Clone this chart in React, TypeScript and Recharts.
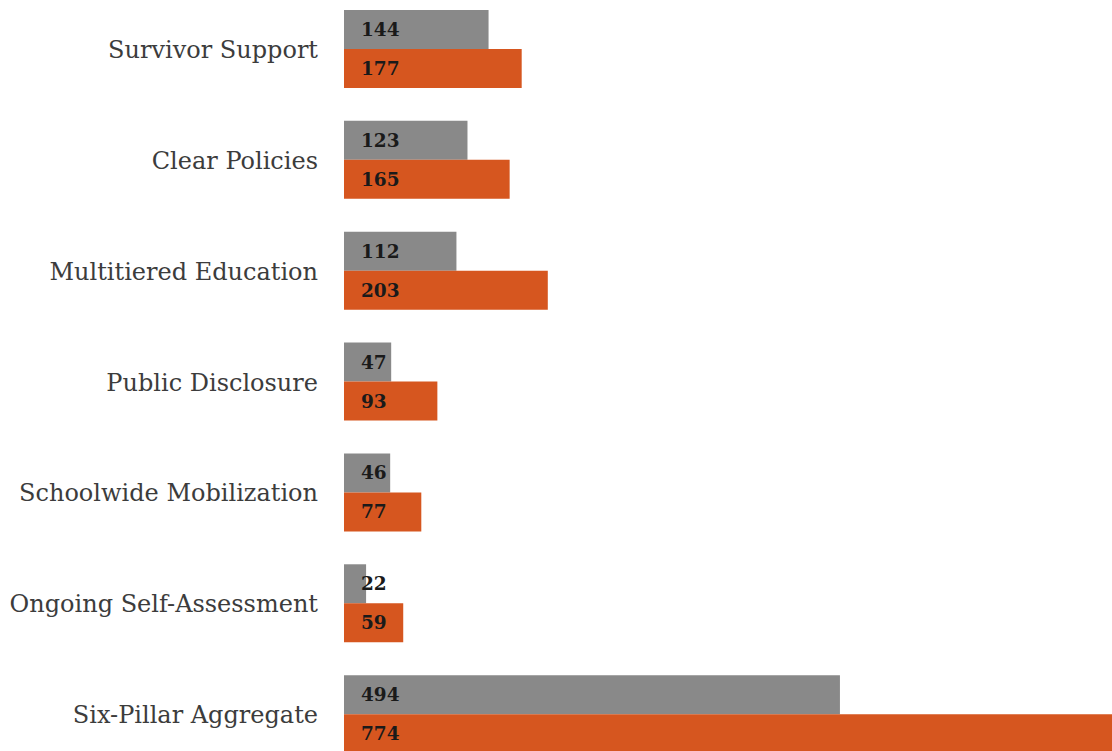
import React from 'react';
import { BarChart, Bar, XAxis, YAxis, LabelList } from 'recharts';

// pillar names, top to bottom
const pillars = [
  'Survivor Support',
  'Clear Policies',
  'Multitiered Education',
  'Public Disclosure',
  'Schoolwide Mobilization',
  'Ongoing Self-Assessment',
  'Six-Pillar Aggregate',
];

// grey series (first bar of each pair)
const greyValues = [144, 123, 112, 47, 46, 22, 494];
// orange series (second bar of each pair)
const orangeValues = [177, 165, 203, 93, 77, 59, 774];

const FONT = '"DejaVu Serif", serif';

const rows = pillars.map((name, i) => ({
  name,
  grey: greyValues[i],
  orange: orangeValues[i],
}));

const valueStyle = { fontFamily: FONT, fontSize: 18.5, fontWeight: 700, fill: '#1a1a1a' };

const App: React.FC = () => {
  return (
    <div
      style={{
        position: 'fixed',
        left: 0,
        top: 0,
        width: 1112,
        height: 751,
        overflow: 'hidden',
        background: '#fff',
      }}
    >
      {/* the last bar runs past the right edge, so the plot is shifted/clipped */}
      <div style={{ position: 'absolute', left: 0, top: -6 }}>
        <BarChart
          width={1112}
          height={776}
          data={rows}
          layout="vertical"
          margin={{ top: 0, right: 0, bottom: 0, left: 0 }}
          barCategoryGap={16}
          barGap={0}
        >
          <XAxis type="number" domain={[0, 765]} allowDataOverflow hide />
          <YAxis
            type="category"
            dataKey="name"
            width={344}
            axisLine={false}
            tickLine={false}
            tickSize={0}
            tickMargin={26}
            tick={{ fontFamily: FONT, fontSize: 24, fill: '#3c3c3c' }}
          />
          <Bar dataKey="grey" fill="#898989" isAnimationActive={false}>
            <LabelList dataKey="grey" position="insideLeft" offset={17} style={valueStyle} />
          </Bar>
          <Bar dataKey="orange" fill="#d6561f" isAnimationActive={false}>
            <LabelList dataKey="orange" position="insideLeft" offset={17} style={valueStyle} />
          </Bar>
        </BarChart>
      </div>
    </div>
  );
};

export default App;
